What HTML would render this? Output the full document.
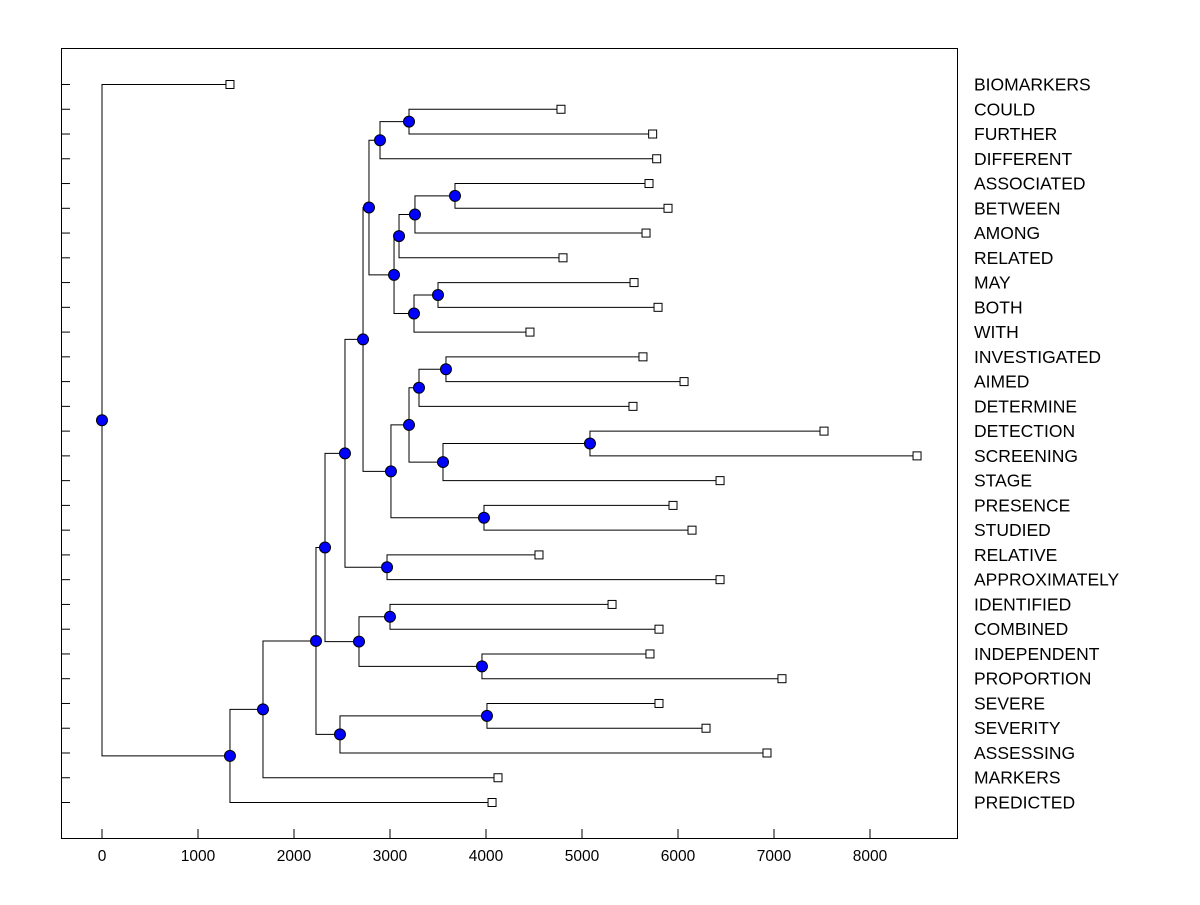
<!DOCTYPE html>
<html><head><meta charset="utf-8"><style>
body{margin:0;background:#fff;}
svg text{font-family:"Liberation Sans",Arial,sans-serif;}
</style></head><body>
<svg id="chart" width="1200" height="900" xmlns="http://www.w3.org/2000/svg">
<rect x="61.5" y="48.5" width="896" height="790" fill="none" stroke="#000" stroke-width="1"/>
<g id="g"></g>
</svg>
<script>
const labels=["BIOMARKERS","COULD","FURTHER","DIFFERENT","ASSOCIATED","BETWEEN","AMONG","RELATED","MAY","BOTH","WITH","INVESTIGATED","AIMED","DETERMINE","DETECTION","SCREENING","STAGE","PRESENCE","STUDIED","RELATIVE","APPROXIMATELY","IDENTIFIED","COMBINED","INDEPENDENT","PROPORTION","SEVERE","SEVERITY","ASSESSING","MARKERS","PREDICTED"];
const leafHeights=[1333,4781,5736,5778,5698,5896,5667,4802,5542,5792,4458,5635,6063,5531,7521,8490,6438,5948,6146,4552,6438,5313,5802,5708,7083,5802,6292,6927,4125,4063];
const mergeLeft=[25,30,21,23,32,19,17,14,37,11,39,40,41,1,43,4,45,46,8,48,47,44,51,52,53,54,55,56,0];
const mergeRight=[26,27,22,24,33,20,18,15,16,12,13,38,36,2,3,5,6,7,9,10,49,50,42,35,34,31,28,29,57];
const mergeHeights=[4010,2479,3000,3958,2677,2969,3979,5083,3552,3583,3302,3198,3010,3198,2896,3677,3260,3094,3500,3250,3042,2781,2719,2531,2323,2229,1677,1333,0];
const xTicks=[0,1000,2000,3000,4000,5000,6000,7000,8000];

const NS="http://www.w3.org/2000/svg";
const g=document.getElementById('g');
const xs=v=>102+v*0.096;
const rowY=i=>84+i*(802-84)/29;
function mk(tag,attrs){const e=document.createElementNS(NS,tag);for(const k in attrs)e.setAttribute(k,attrs[k]);g.appendChild(e);return e;}
xTicks.forEach(t=>{
  const l=mk('line',{x1:xs(t),x2:xs(t),y1:829,y2:838,stroke:'#000'});
  
  
  const tx=mk('text',{x:xs(t),y:861,'text-anchor':'middle','font-size':'15.5'});
  tx.textContent=t;
  
  
});
labels.forEach((n,i)=>{
  const l=mk('line',{x1:61,x2:70,y1:rowY(i)+0.5,y2:rowY(i)+0.5,stroke:'#000'});
  
  
  const tx=mk('text',{x:974,y:rowY(i)+6.5,'font-size':'17.5'});
  tx.textContent=n;
  
  
});
const H=leafHeights.slice(), Y=labels.map((_,i)=>rowY(i));
mergeHeights.forEach((h,k)=>{H.push(h);Y.push((Y[mergeLeft[k]]+Y[mergeRight[k]])/2);});
const N=labels.length;
mergeHeights.forEach((h,k)=>{
  const a=mergeLeft[k],b=mergeRight[k],x=xs(h);
  const p=mk('path',{d:`M${xs(H[a])},${Y[a]+0.5}H${x}V${Y[b]+0.5}H${xs(H[b])}`,fill:'none',stroke:'#000','stroke-width':1});
  
  
});
mergeHeights.forEach((h,k)=>{
  const c=mk('circle',{cx:xs(h),cy:Y[N+k]+0.5,r:5.5,fill:'#0000ff',stroke:'#000','stroke-width':1});
  
  
});
leafHeights.forEach((h,i)=>{
  const r=mk('rect',{x:xs(h)-4,y:Y[i]-3.5,width:8,height:8,fill:'#fff',stroke:'#000','stroke-width':1});
  
  
});
</script>
</body></html>
